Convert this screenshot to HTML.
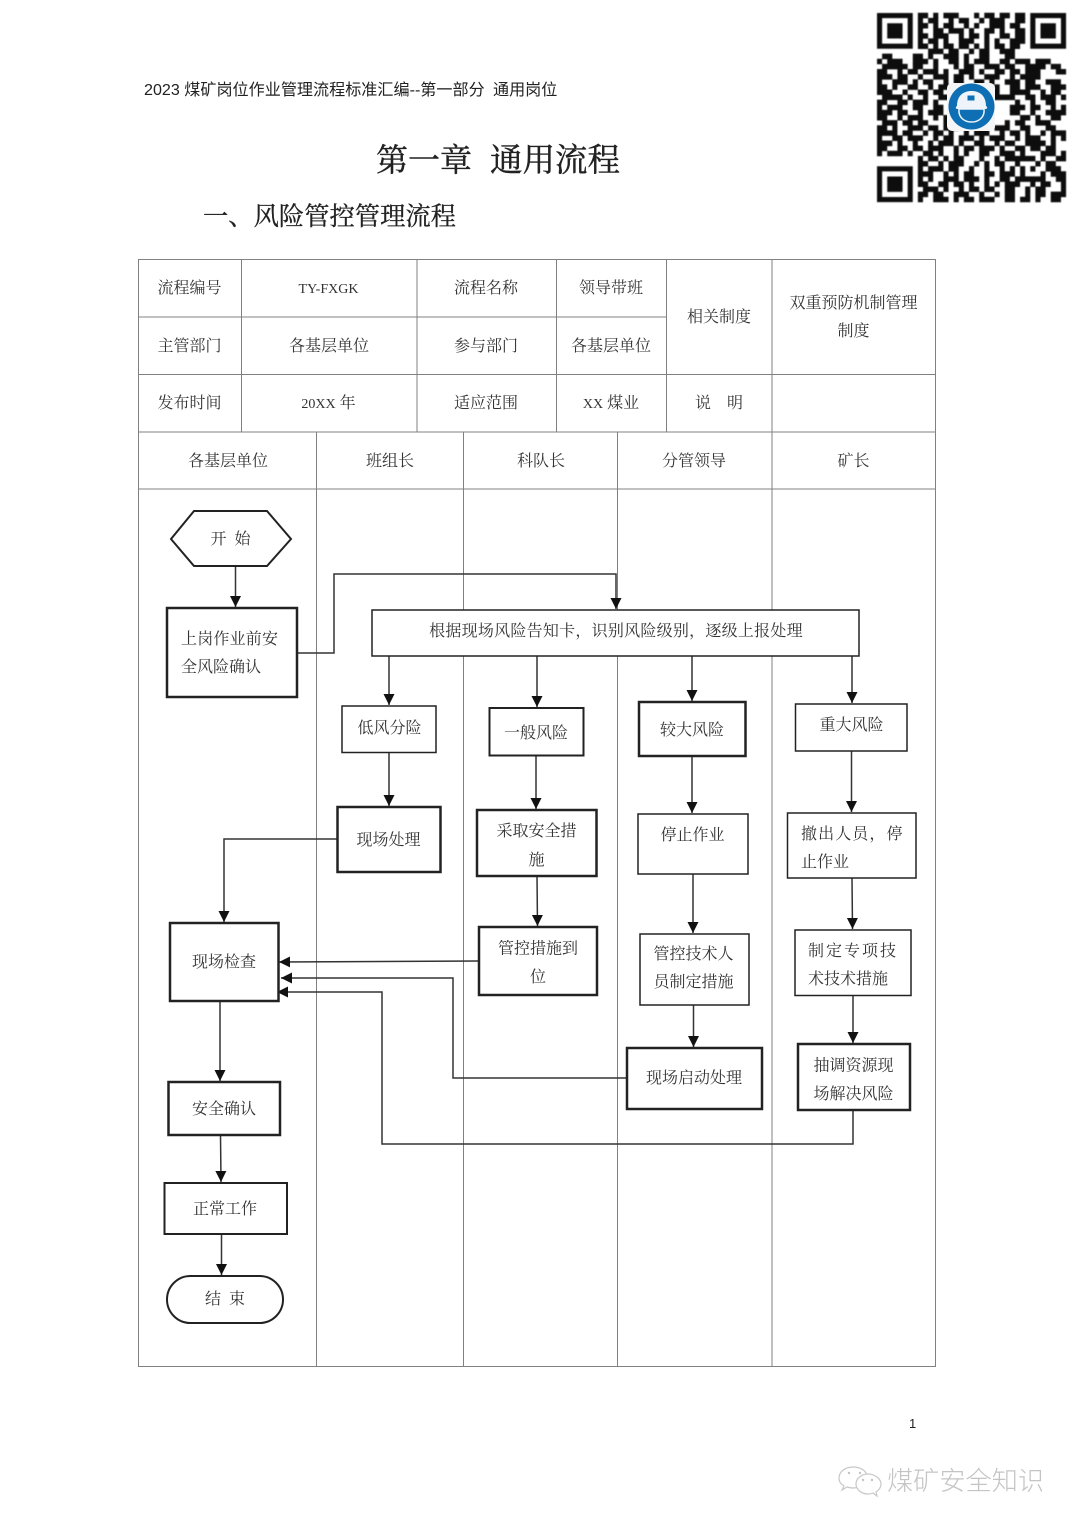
<!DOCTYPE html>
<html lang="zh">
<head>
<meta charset="utf-8">
<title>风险管控管理流程</title>
<style>
html,body{margin:0;padding:0;background:#fff}
svg{display:block}
text{font-family:"Liberation Serif","Noto Serif CJK SC",serif;font-size:16px;fill:#333}
.m{text-anchor:middle}
.hd{font-family:"Liberation Sans","Noto Sans CJK SC",sans-serif;font-size:16.1px;fill:#222}
.h1{fill:#222;stroke:#222;stroke-width:.4}
.la{font-size:14px}
.grid{stroke:#808080;stroke-width:1;fill:none}
.b1,.b2,.b3{fill:#fff;stroke:#222}
.b1{stroke-width:1.5}.b2{stroke-width:2}.b3{stroke-width:2.5}
.c{fill:none;stroke:#333;stroke-width:1.5}
.q path{fill:none;stroke:#111;stroke-width:1.08}
</style>
</head>
<body>
<svg xmlns="http://www.w3.org/2000/svg" width="1080" height="1528" viewBox="0 0 1080 1528">
<defs>
<marker id="a" markerUnits="userSpaceOnUse" markerWidth="12" markerHeight="12" refX="11" refY="5.5" orient="auto"><path d="M0 0L11 5.5L0 11z" fill="#111"/></marker>
<filter id="blur" x="-5%" y="-5%" width="110%" height="110%"><feGaussianBlur stdDeviation="0.6"/></filter>
</defs>
<rect width="1080" height="1528" fill="#fff"/>

<text class="hd" x="144" y="95">2023 煤矿岗位作业管理流程标准汇编--第一部分</text>
<text class="hd" x="493" y="95">通用岗位</text>
<text class="h1" x="376" y="171" style="font-size:32px">第一章</text>
<text class="h1" x="490" y="171" style="font-size:32.500px">通用流程</text>
<text class="h1" x="203" y="225" style="font-size:25.300px;stroke-width:.3">一、风险管控管理流程</text>

<g filter="url(#blur)">
<g class="q" transform="translate(877 13) scale(5.11)">
<path d="M0 0h7v7h-7zM1 1v5h5v-5zM2 2h3v3h-3z" style="fill:#111;fill-rule:evenodd;stroke:none"/>
<path d="M30 0h7v7h-7zM31 1v5h5v-5zM32 2h3v3h-3z" style="fill:#111;fill-rule:evenodd;stroke:none"/>
<path d="M0 30h7v7h-7zM1 31v5h5v-5zM2 32h3v3h-3z" style="fill:#111;fill-rule:evenodd;stroke:none"/>
<path d="M8 .5H29" stroke-dasharray="2 1 1 1 3 3 1 1 2 1 2 1"/>
<path d="M8 1.5H29" stroke-dasharray="1 1 2 2 1 1 2 2 1 1 3 2 2"/>
<path d="M8 2.5H29" stroke-dasharray="2 1 1 1 2 2 1 1 1 2 3 1 2"/>
<path d="M8 3.5H29" stroke-dasharray="1 2 2 1 3 1 1 2 2 1 1 2 2"/>
<path d="M8 4.5H29" stroke-dasharray="2 1 3 2 1 1 2 1 1 2 2 1 2"/>
<path d="M8 5.5H29" stroke-dasharray="1 1 2 1 1 2 3 2 1 1 1 2 3"/>
<path d="M8 6.5H29" stroke-dasharray="2 1 1 1 2 1 2 1 1 1 1 1 2 1 2"/>
<path d="M8 7.5H29" stroke-dasharray="0 2 3 1 2 2 1 1 2 2 3 2"/>
<path d="M1 8.5H29" stroke-dasharray="2 4 2 1 1 2 3 1 1 2 2 3 2 2"/>
<path d="M0 9.5H37" stroke-dasharray="1 1 3 2 3 1 1 2 2 1 1 1 3 2 2 1 3 1 3 3"/>
<path d="M0 10.5H37" stroke-dasharray="0 1 5 1 2 2 1 3 1 1 2 2 3 1 2 2 4 1 2 2"/>
<path d="M0 11.5H37" stroke-dasharray="2 2 1 1 2 1 3 1 1 2 3 1 1 2 2 1 2 1 3 3"/>
<path d="M0 12.5H37" stroke-dasharray="3 1 2 2 1 2 3 1 2 1 1 2 3 2 1 1 4 5"/>
<path d="M0 13.5H37" stroke-dasharray="1 2 3 1 1 1 2 2 1 1 2 2 2 1 1 2 3 1 2 2 3"/>
<path d="M0 14.5H37" stroke-dasharray="2 1 1 2 2 2 1 1 3 4 2 2 1 2 2 1 3 2 3"/>
<path d="M0 15.5H37" stroke-dasharray="3 2 1 2 2 1 2 1 1 6 3 2 4 2 1 1 2"/>
<path d="M0 16.5H37" stroke-dasharray="0 1 4 1 1 2 1 2 2 1 12 2 2 1 3 1 1"/>
<path d="M0 17.5H37" stroke-dasharray="2 2 2 1 3 1 1 2 1 12 1 2 1 2 2 3 1"/>
<path d="M0 18.5H37" stroke-dasharray="1 1 3 2 2 2 2 1 2 10 3 1 2 2 1 1 1 1"/>
<path d="M0 19.5H37" stroke-dasharray="3 1 2 2 1 1 3 2 1 10 2 2 1 2 4"/>
<path d="M0 20.5H37" stroke-dasharray="2 2 1 1 3 2 1 1 3 12 2 1 1 2 2 1"/>
<path d="M0 21.5H37" stroke-dasharray="0 1 3 1 2 1 2 3 1 1 2 1 1 1 2 3 1 1 2 2 3 2"/>
<path d="M0 22.5H37" stroke-dasharray="2 1 1 2 3 1 2 1 3 1 1 2 2 1 3 2 2 3 2"/>
<path d="M0 23.5H37" stroke-dasharray="4 1 2 2 1 1 2 1 1 2 1 1 3 2 1 1 2 1 1 2 1 1 3"/>
<path d="M0 24.5H37" stroke-dasharray="1 2 2 1 3 2 1 1 2 1 3 1 1 1 3 2 1 1 3 2 1"/>
<path d="M0 25.5H37" stroke-dasharray="3 1 1 2 1 2 1 1 3 1 1 2 2 2 1 1 2 2 4 1 1"/>
<path d="M0 26.5H37" stroke-dasharray="2 2 2 1 2 1 3 2 1 1 2 1 3 1 1 2 2 1 2 1 2"/>
<path d="M0 27.5H37" stroke-dasharray="1 1 3 1 1 2 2 1 1 2 1 1 1 2 2 2 3 1 1 3 3"/>
<path d="M8 28.5H37" stroke-dasharray="1 1 2 1 1 1 2 3 1 2 1 1 6 1 1 2 2"/>
<path d="M8 29.5H37" stroke-dasharray="2 2 1 1 3 2 1 1 1 1 2 2 1 3 1 1 2 2"/>
<path d="M8 30.5H37" stroke-dasharray="1 1 3 1 2 2 1 2 1 2 1 1 1 1 1 1 1 2 3"/>
<path d="M8 31.5H37" stroke-dasharray="3 2 1 1 1 1 2 2 2 1 3 1 1 3 1 1 3"/>
<path d="M8 32.5H37" stroke-dasharray="1 1 1 2 3 1 3 1 1 2 2 1 6 2 2"/>
<path d="M8 33.5H37" stroke-dasharray="2 2 2 1 2 1 1 2 1 1 1 1 3 2 1 1 2 2 1"/>
<path d="M8 34.5H37" stroke-dasharray="0 1 3 1 1 2 1 1 2 1 2 2 2 2 1 1 2 3 1"/>
<path d="M8 35.5H37" stroke-dasharray="2 1 2 2 3 2 1 2 1 1 2 2 1 1 2 1 3"/>
<path d="M8 36.5H37" stroke-dasharray="1 2 3 1 1 1 2 1 3 2 2 1 2 1 1 2 2"/>
</g>
</g>
<rect x="947" y="83" width="48" height="48" rx="5" fill="#f4f5f6"/>
<circle cx="971.500" cy="106.500" r="23" fill="#0f6fb5"/>
<path d="M957 106c0-10 6-15 14.500-15s14.500 5 14.500 15c2 1 1 3 0 3h-29c-1 0-2-2 0-3z" fill="#eef4f9"/>
<path d="M959 109h25c1 8-5 13-12.500 13s-13.500-5-12.500-13z" fill="#0f6fb5" stroke="#eef4f9" stroke-width="1.500"/>
<rect x="967" y="95" width="8" height="6" fill="#0f6fb5" stroke="#eef4f9"/>

<rect class="grid" x="138.500" y="259.500" width="797" height="1107"/>
<path class="grid" d="M138 317H666M138 374.500H936M138 432H936M138 489H936"/>
<path class="grid" d="M241.500 259V432M417 259V432M556.500 259V432M666.500 259V432M772 259V432"/>
<path class="grid" d="M316.500 432V1366M463.500 432V1366M617.500 432V1366M772 432V1366"/>

<text class="m" x="189.500" y="293">流程编号</text>
<text class="m la" x="328.500" y="293">TY-FXGK</text>
<text class="m" x="486" y="293">流程名称</text>
<text class="m" x="611" y="293">领导带班</text>
<text class="m" x="719" y="322">相关制度</text>
<text class="m" x="853.500" y="308">双重预防机制管理</text>
<text class="m" x="853.500" y="336">制度</text>
<text class="m" x="189.500" y="351">主管部门</text>
<text class="m" x="329" y="351">各基层单位</text>
<text class="m" x="486" y="351">参与部门</text>
<text class="m" x="611" y="351">各基层单位</text>
<text class="m" x="189.500" y="408">发布时间</text>
<text class="m" x="328.500" y="408"><tspan class="la">20XX</tspan> 年</text>
<text class="m" x="486" y="408">适应范围</text>
<text class="m" x="611" y="408"><tspan class="la">XX</tspan> 煤业</text>
<text x="695" y="408">说</text>
<text x="727" y="408">明</text>
<text class="m" x="228" y="466">各基层单位</text>
<text class="m" x="390" y="466">班组长</text>
<text class="m" x="541" y="466">科队长</text>
<text class="m" x="694" y="466">分管领导</text>
<text class="m" x="853.500" y="466">矿长</text>

<g class="c">
<path d="M235.500 566V607" marker-end="url(#a)"/>
<path d="M297 653H334V574H616V609" marker-end="url(#a)"/>
<path d="M389 656V705" marker-end="url(#a)"/>
<path d="M537 656V707" marker-end="url(#a)"/>
<path d="M692 656V701" marker-end="url(#a)"/>
<path d="M852 656V703" marker-end="url(#a)"/>
<path d="M389 752V806" marker-end="url(#a)"/>
<path d="M536 755V809" marker-end="url(#a)"/>
<path d="M692 756V813" marker-end="url(#a)"/>
<path d="M851.500 751V812" marker-end="url(#a)"/>
<path d="M337 839H224V922" marker-end="url(#a)"/>
<path d="M537 876L537.500 926" marker-end="url(#a)"/>
<path d="M693 874V933" marker-end="url(#a)"/>
<path d="M852 878L852.500 929" marker-end="url(#a)"/>
<path d="M693.500 1005V1047" marker-end="url(#a)"/>
<path d="M853 995V1043" marker-end="url(#a)"/>
<path d="M479 961L279 962" marker-end="url(#a)"/>
<path d="M627 1078H453V978H281" marker-end="url(#a)"/>
<path d="M853 1110V1144H382V992H277" marker-end="url(#a)"/>
<path d="M220 1001V1081" marker-end="url(#a)"/>
<path d="M220.500 1135L221 1182" marker-end="url(#a)"/>
<path d="M221.500 1234V1275" marker-end="url(#a)"/>
</g>

<polygon class="b2" points="171,539 194,511 267,511 291,539 267,566 194,566"/>
<rect class="b3" x="167" y="608" width="130" height="89"/>
<rect class="b1" x="372" y="610" width="487" height="46"/>
<rect class="b1" x="342" y="706" width="94" height="46.500"/>
<rect class="b2" x="489.500" y="708" width="94" height="47.500"/>
<rect class="b3" x="639" y="702" width="106.500" height="54"/>
<rect class="b1" x="795.500" y="704" width="111.500" height="47"/>
<rect class="b3" x="337.500" y="807" width="103" height="65"/>
<rect class="b3" x="477" y="810" width="119.500" height="66"/>
<rect class="b1" x="638" y="814" width="110" height="60"/>
<rect class="b1" x="787.500" y="813" width="128.500" height="65"/>
<rect class="b3" x="170" y="923" width="108.500" height="78"/>
<rect class="b3" x="479" y="927" width="118" height="68"/>
<rect class="b1" x="640" y="934" width="109" height="71"/>
<rect class="b1" x="795" y="930" width="116" height="65.500"/>
<rect class="b3" x="627" y="1048" width="135" height="61"/>
<rect class="b3" x="798" y="1044" width="112" height="66"/>
<rect class="b3" x="168.500" y="1082" width="111.500" height="53"/>
<rect class="b2" x="164.500" y="1183" width="122.500" height="51"/>
<rect class="b2" x="167" y="1276" width="116" height="47" rx="23.500"/>

<text class="m" x="230.500" y="544" xml:space="preserve">开  始</text>
<text x="181" y="644" style="letter-spacing:.2px">上岗作业前安</text>
<text x="181" y="672">全风险确认</text>
<text class="m" x="616" y="636" style="letter-spacing:.25px">根据现场风险告知卡，识别风险级别，逐级上报处理</text>
<text class="m" x="389.500" y="733">低风分险</text>
<text class="m" x="536" y="738">一般风险</text>
<text class="m" x="692" y="735">较大风险</text>
<text class="m" x="851.500" y="730">重大风险</text>
<text class="m" x="388.500" y="845">现场处理</text>
<text class="m" x="536.500" y="836">采取安全措</text>
<text class="m" x="536.500" y="865">施</text>
<text class="m" x="692.500" y="840">停止作业</text>
<text x="801" y="839" style="letter-spacing:1.100px">撤出人员，停</text>
<text x="801" y="867">止作业</text>
<text class="m" x="224" y="967">现场检查</text>
<text class="m" x="538" y="953.500">管控措施到</text>
<text class="m" x="538" y="982">位</text>
<text class="m" x="693.500" y="959">管控技术人</text>
<text class="m" x="693.500" y="987">员制定措施</text>
<text x="808" y="956" style="letter-spacing:2px">制定专项技</text>
<text x="808" y="984">术技术措施</text>
<text class="m" x="694" y="1083">现场启动处理</text>
<text class="m" x="853.500" y="1070.500">抽调资源现</text>
<text class="m" x="853.500" y="1099">场解决风险</text>
<text class="m" x="224" y="1114">安全确认</text>
<text class="m" x="225" y="1214">正常工作</text>
<text class="m" x="225" y="1304" xml:space="preserve">结  束</text>

<text x="909" y="1428" style="font-family:'Liberation Sans',sans-serif;font-size:13px;fill:#222">1</text>
<g fill="#fff" stroke="#c8c8c8" stroke-width="1.200">
<path d="M853 1467c-8 0-14 5-14 11 0 4 2 6 5 8l-2 4 5-3c2 .5 4 1 6 1 8 0 14-5 14-11s-6-10-14-10z"/>
<path d="M868 1474c-7 0-12 5-12 10s5 10 12 10c2 0 3 0 5-1l4 3-1-4c3-2 5-5 5-8 0-5-6-10-13-10z"/>
</g>
<g fill="#c4c4c4"><circle cx="849" cy="1473" r="1.200"/><circle cx="860" cy="1473" r="1.200"/><circle cx="863" cy="1480" r="1.200"/><circle cx="872" cy="1480" r="1.200"/></g>
<text x="887" y="1490" style="font-family:'Liberation Sans','Noto Sans CJK SC',sans-serif;font-size:26.200px;font-weight:300;fill:#c4c4c4">煤矿安全知识</text>
</svg>
</body>
</html>
